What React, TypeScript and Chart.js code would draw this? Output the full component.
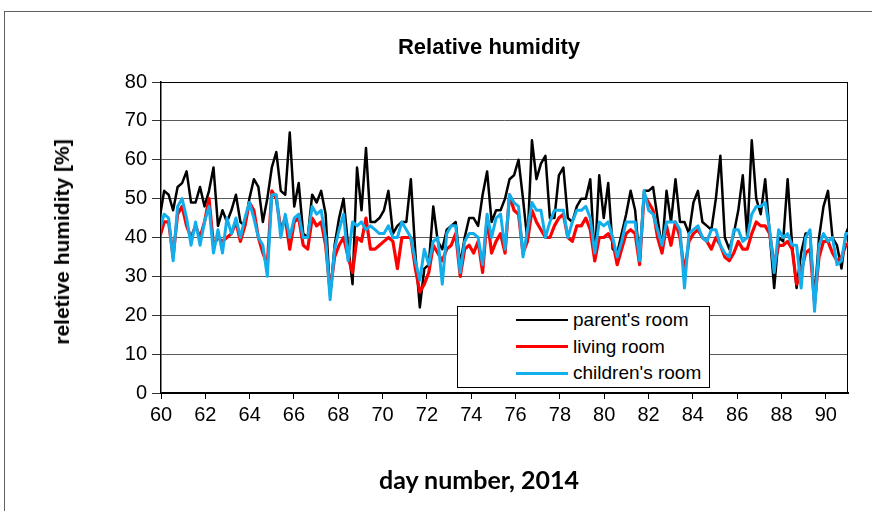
import React, { useEffect, useRef } from "react";
import { Chart, registerables } from "chart.js";

Chart.register(...registerables);

// Sampling of the logged series (day number of first sample, days between samples)
const DAY_START = 59.94;
const DAY_STEP = 0.2024;

const SERIES_NAMES = ["parent's room", "living room", "children's room"];
const SERIES_COLORS = ["#000000", "#FF0000", "#12AEEC"];
const SERIES_WIDTHS = [2.5, 3.2, 3];

const X_MIN = 60;
const X_MAX = 91;
const X_STEP = 2;
const Y_MIN = 0;
const Y_MAX = 80;
const Y_STEP = 10;

// relative humidity [%], 5 samples per day, days 60..90
const PARENT_ROOM = [
  45, 52, 51, 47, 53,
  54, 57, 49, 49, 53,
  48, 52, 58, 43, 47,
  44, 47, 51, 44, 43,
  50, 55, 53, 44, 50,
  58, 62, 52, 51, 67,
  48, 54, 41, 40, 51,
  49, 52, 46, 25, 38,
  45, 50, 38, 28, 58,
  47, 63, 44, 44, 45,
  47, 52, 41, 43, 44,
  44, 55, 36, 22, 32,
  33, 48, 39, 37, 42,
  43, 44, 33, 40, 45,
  45, 43, 51, 57, 44,
  47, 47, 50, 55, 56,
  60, 50, 39, 65, 55,
  59, 61, 45, 45, 56,
  58, 45, 44, 48, 50,
  50, 55, 34, 56, 45,
  54, 37, 36, 41, 46,
  52, 47, 34, 52, 52,
  53, 45, 37, 52, 44,
  55, 44, 44, 41, 49,
  52, 44, 43, 42, 50,
  61, 40, 37, 41, 47,
  56, 40, 65, 50, 46,
  55, 41, 27, 40, 39,
  55, 38, 27, 36, 41,
  41, 24, 40, 48, 52,
  40, 38, 32, 41, 44,
];

const LIVING_ROOM = [
  40, 44, 44, 35, 46,
  48, 43, 40, 43, 40,
  44, 50, 38, 40, 39,
  40, 41, 44, 39, 43,
  49, 47, 40, 36, 33,
  52, 50, 42, 45, 37,
  44, 45, 38, 37, 45,
  43, 44, 38, 26, 35,
  38, 40, 35, 31, 40,
  39, 45, 37, 37, 38,
  39, 40, 39, 32, 40,
  40, 40, 32, 26, 28,
  31, 38, 36, 34, 37,
  38, 41, 30, 37, 38,
  36, 39, 31, 45, 36,
  39, 41, 36, 51, 47,
  46, 36, 39, 47, 44,
  42, 40, 40, 43, 45,
  46, 40, 39, 43, 43,
  45, 42, 34, 40, 40,
  41, 39, 33, 37, 41,
  42, 41, 33, 51, 49,
  47, 40, 36, 43, 38,
  44, 40, 31, 39, 41,
  42, 40, 39, 37, 40,
  38, 35, 34, 36, 39,
  37, 37, 41, 44, 43,
  43, 41, 33, 38, 38,
  39, 37, 28, 31, 36,
  37, 23, 35, 39, 39,
  36, 34, 35, 38, 39,
];

const CHILDREN_ROOM = [
  42, 46, 45, 34, 48,
  50, 45, 38, 44, 38,
  44, 48, 36, 42, 36,
  45, 41, 45, 40, 45,
  49, 45, 40, 38, 30,
  51, 51, 40, 46, 40,
  45, 46, 40, 40, 48,
  46, 47, 40, 24, 37,
  42, 46, 34, 44, 43,
  44, 42, 43, 42, 41,
  41, 43, 40, 40, 44,
  42, 40, 34, 29, 37,
  33, 39, 40, 28, 41,
  43, 43, 31, 39, 41,
  41, 40, 33, 46, 40,
  45, 46, 37, 51, 49,
  48, 35, 42, 49, 47,
  47, 40, 44, 47, 47,
  47, 40, 44, 47, 47,
  48, 45, 36, 44, 43,
  44, 40, 35, 39, 44,
  44, 44, 34, 52, 47,
  46, 42, 38, 44, 44,
  44, 42, 27, 41, 42,
  43, 40, 39, 42, 42,
  38, 36, 35, 42, 42,
  39, 40, 46, 48, 48,
  49, 42, 31, 42, 40,
  41, 38, 38, 27, 40,
  42, 21, 38, 41, 39,
  40, 33, 34, 41, 41,
];

const SERIES = [PARENT_ROOM, LIVING_ROOM, CHILDREN_ROOM];
const DAYS = PARENT_ROOM.map((_, i) => +(DAY_START + i * DAY_STEP).toFixed(4));

const TITLE = "Relative humidity";
const Y_TITLE = "reletive humidity [%]";
const X_TITLE = "day number, 2014";

const SANS = "'Liberation Sans', Arial, Helvetica, sans-serif";

const framePlugin = {
  id: "plotFrame",
  beforeDatasetsDraw(chart: any) {
    const { ctx, chartArea: a } = chart;
    ctx.save();
    ctx.strokeStyle = "#000";
    ctx.lineWidth = 1;
    ctx.beginPath();
    ctx.moveTo(a.left, Math.round(a.top) + 0.5);
    ctx.lineTo(a.right, Math.round(a.top) + 0.5);
    ctx.moveTo(Math.round(a.right) - 0.5, a.top);
    ctx.lineTo(Math.round(a.right) - 0.5, a.bottom);
    ctx.stroke();
    ctx.restore();
  },
};

export default function App() {
  const canvasRef = useRef<HTMLCanvasElement | null>(null);

  useEffect(() => {
    const canvas = canvasRef.current;
    if (!canvas) return;
    const datasets = SERIES.map((vals, s) => ({
      label: SERIES_NAMES[s],
      data: vals.map((v, i) => ({ x: DAYS[i], y: v })),
      borderColor: SERIES_COLORS[s],
      backgroundColor: SERIES_COLORS[s],
      borderWidth: SERIES_WIDTHS[s],
      pointRadius: 0,
      tension: 0,
      borderJoinStyle: "round" as const,
      borderCapStyle: "round" as const,
      order: 3 - s,
    }));

    const chart = new Chart(canvas, {
      type: "line",
      data: { datasets },
      plugins: [framePlugin],
      options: {
        responsive: false,
        animation: false,
        events: [],
        layout: { padding: { top: 82, right: 24, left: 0, bottom: 0 } },
        plugins: {
          legend: { display: false },
          title: { display: false },
          tooltip: { enabled: false },
        },
        scales: {
          x: {
            type: "linear",
            min: X_MIN,
            max: X_MAX,
            afterFit: (s: any) => {
              s.height = 118;
            },
            border: { display: true, color: "#000", width: 2 },
            grid: {
              drawOnChartArea: false,
              drawTicks: true,
              tickLength: 6,
              tickColor: "#000",
              color: "#000",
            },
            ticks: {
              stepSize: X_STEP,
              includeBounds: false,
              autoSkip: false,
              maxRotation: 0,
              color: "#000",
              padding: 4,
              font: { family: SANS, size: 20 },
            },
          },
          y: {
            type: "linear",
            min: Y_MIN,
            max: Y_MAX,
            afterFit: (s: any) => {
              s.width = 161;
            },
            border: { display: true, color: "#000", width: 1.5 },
            grid: {
              color: (c: any) => (c.tick && c.tick.value === Y_MAX ? "#000" : "#5a5a5a"),
              lineWidth: 1,
              drawTicks: true,
              tickLength: 9,
              tickColor: "#333",
            },
            ticks: {
              stepSize: Y_STEP,
              color: "#000",
              padding: 5,
              font: { family: SANS, size: 20 },
            },
          },
        },
      },
    });
    return () => chart.destroy();
  }, []);

  return (
    <div
      style={{
        position: "fixed",
        left: 0,
        top: 0,
        width: 872,
        height: 511,
        background: "#fff",
        overflow: "hidden",
        fontFamily: SANS,
      }}
    >
      <div
        style={{
          position: "absolute",
          left: 4,
          top: 11,
          width: 900,
          height: 600,
          borderLeft: "1px solid #606060",
          borderTop: "1px solid #606060",
        }}
      />
      <canvas
        ref={canvasRef}
        width={872}
        height={511}
        style={{ position: "absolute", left: 0, top: 0, width: 872, height: 511 }}
      />
      <div
        style={{
          position: "absolute",
          left: 489,
          top: 47,
          transform: "translate(-50%, -50%)",
          fontWeight: "bold",
          fontSize: 22,
          whiteSpace: "nowrap",
          color: "#000",
        }}
      >
        {TITLE}
      </div>
      <div
        style={{
          position: "absolute",
          left: 62,
          top: 242,
          transform: "translate(-50%, -50%) rotate(-90deg)",
          fontWeight: "bold",
          fontSize: 21,
          whiteSpace: "nowrap",
          color: "#000",
        }}
      >
        {Y_TITLE}
      </div>
      <div
        style={{
          position: "absolute",
          left: 479,
          top: 479,
          transform: "translate(-50%, -50%)",
          fontWeight: "bold",
          fontSize: 25,
          fontFamily: "Lato, 'Open Sans', sans-serif",
          whiteSpace: "nowrap",
          color: "#000",
        }}
      >
        {X_TITLE}
      </div>
      <div
        style={{
          position: "absolute",
          left: 457,
          top: 306,
          width: 253,
          height: 82,
          boxSizing: "border-box",
          border: "1px solid #000",
          background: "#fff",
        }}
      >
        {SERIES_NAMES.map((name, i) => (
          <div
            key={name}
            style={{
              position: "absolute",
              left: 58,
              top: 13 + i * 26.5 - 13,
              height: 26,
              display: "flex",
              alignItems: "center",
              whiteSpace: "nowrap",
            }}
          >
            <div
              style={{
                width: 52,
                height: SERIES_WIDTHS[i],
                background: SERIES_COLORS[i],
              }}
            />
            <span style={{ marginLeft: 5, fontSize: 19, color: "#000" }}>{name}</span>
          </div>
        ))}
      </div>
    </div>
  );
}
